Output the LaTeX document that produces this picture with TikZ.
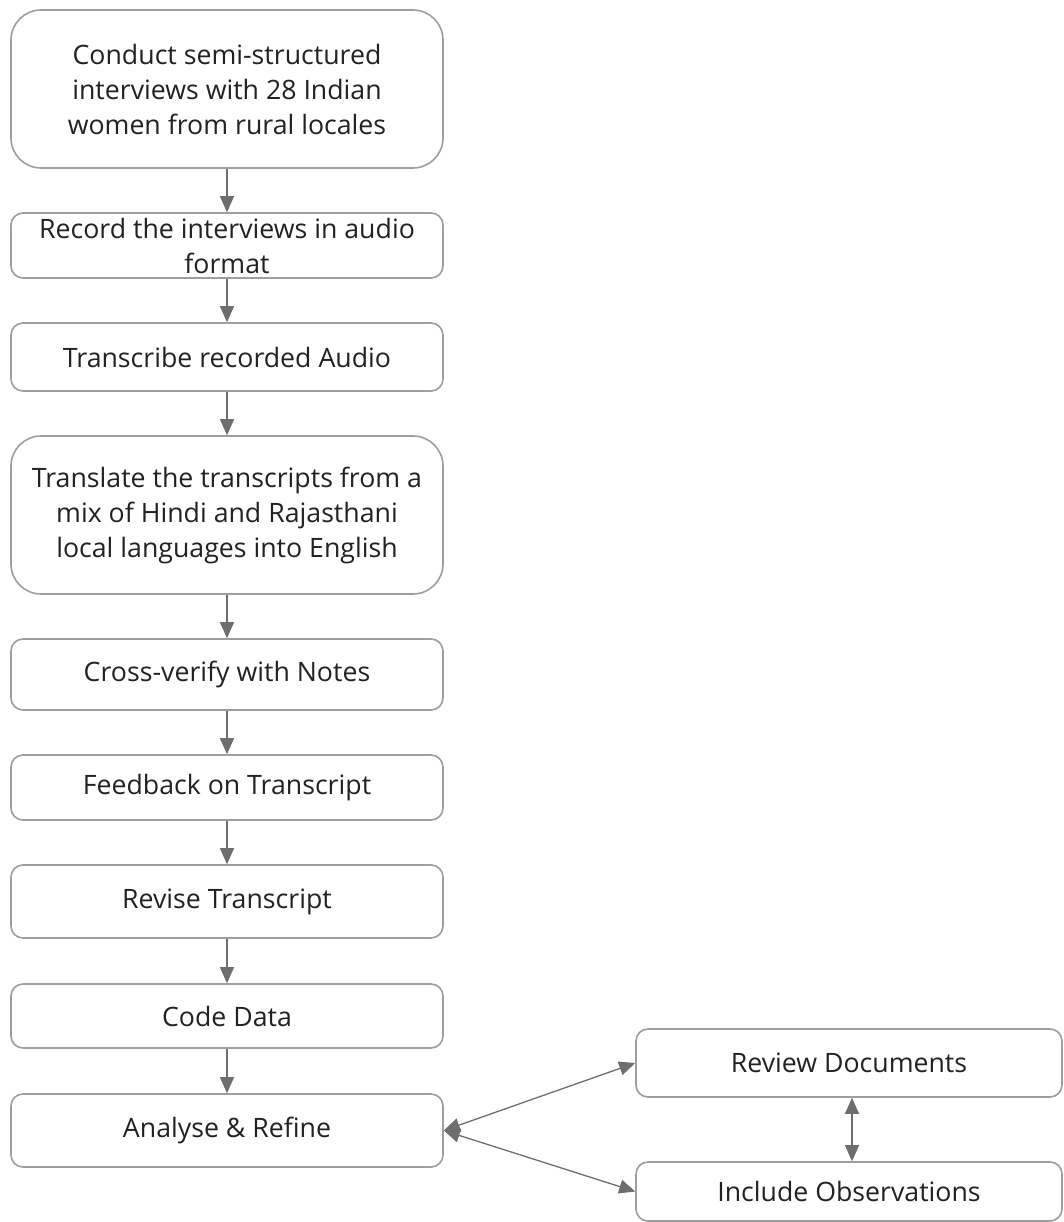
\documentclass[tikz,border=0pt]{standalone}
\usepackage{fontspec}
\setmainfont{Open Sans}
\usetikzlibrary{arrows.meta}
\definecolor{boxline}{HTML}{9E9E9E}
\definecolor{arrowc}{HTML}{6E6E6E}
\definecolor{txt}{HTML}{222222}
\begin{document}
\begin{tikzpicture}[x=1pt,y=-1pt,
  stepbox/.style={draw=boxline, line width=1.6pt, fill=white, rounded corners=12pt,
    minimum width=432pt, inner sep=0pt, align=center, text=txt,
    font=\fontsize{26.7}{35}\selectfont},
  bigbox/.style={stepbox, rounded corners=30pt},
  sidebox/.style={stepbox, minimum width=426pt},
  flow/.style={draw=arrowc, line width=1.3pt, -{Triangle[length=16pt,width=14pt]}},
  biflow/.style={draw=arrowc, line width=1.3pt, {Triangle[length=16pt,width=14pt]}-{Triangle[length=16pt,width=14pt]}}]
\useasboundingbox (0,0) rectangle (1064,1222);
\fill[white] (0,0) rectangle (1064,1222);
\node[bigbox, minimum height=158pt] (b1) at (227,89) {Conduct semi-structured\\interviews with 28 Indian\\women from rural locales};
\node[stepbox, minimum height=65pt] (b2) at (227,245.5) {Record the interviews in audio\\format};
\node[stepbox, minimum height=68pt] (b3) at (227,357) {Transcribe recorded Audio};
\node[bigbox, minimum height=158pt] (b4) at (227,515) {Translate the transcripts from a\\mix of Hindi and Rajasthani\\local languages into English};
\node[stepbox, minimum height=71pt] (b5) at (227,674.5) {Cross-verify with Notes};
\node[stepbox, minimum height=65pt] (b6) at (227,787.5) {Feedback on Transcript};
\node[stepbox, minimum height=73pt] (b7) at (227,901.5) {Revise Transcript};
\node[stepbox, minimum height=64pt] (b8) at (227,1016) {Code Data};
\node[stepbox, minimum height=73pt] (b9) at (227,1130.5) {Analyse \& Refine};
\node[sidebox, minimum height=68pt] (rev) at (849,1063) {Review Documents};
\node[sidebox, minimum height=59pt] (inc) at (849,1191.5) {Include Observations};
\draw[flow] (b1.south) -- (b2.north);
\draw[flow] (b2.south) -- (b3.north);
\draw[flow] (b3.south) -- (b4.north);
\draw[flow] (b4.south) -- (b5.north);
\draw[flow] (b5.south) -- (b6.north);
\draw[flow] (b6.south) -- (b7.north);
\draw[flow] (b7.south) -- (b8.north);
\draw[flow] (b8.south) -- (b9.north);
\draw[biflow] (b9.east) -- (rev.west);
\draw[biflow] (b9.east) -- (inc.west);
\draw[biflow] ([xshift=3pt]rev.south) -- ([xshift=3pt]inc.north);
\end{tikzpicture}
\end{document}
